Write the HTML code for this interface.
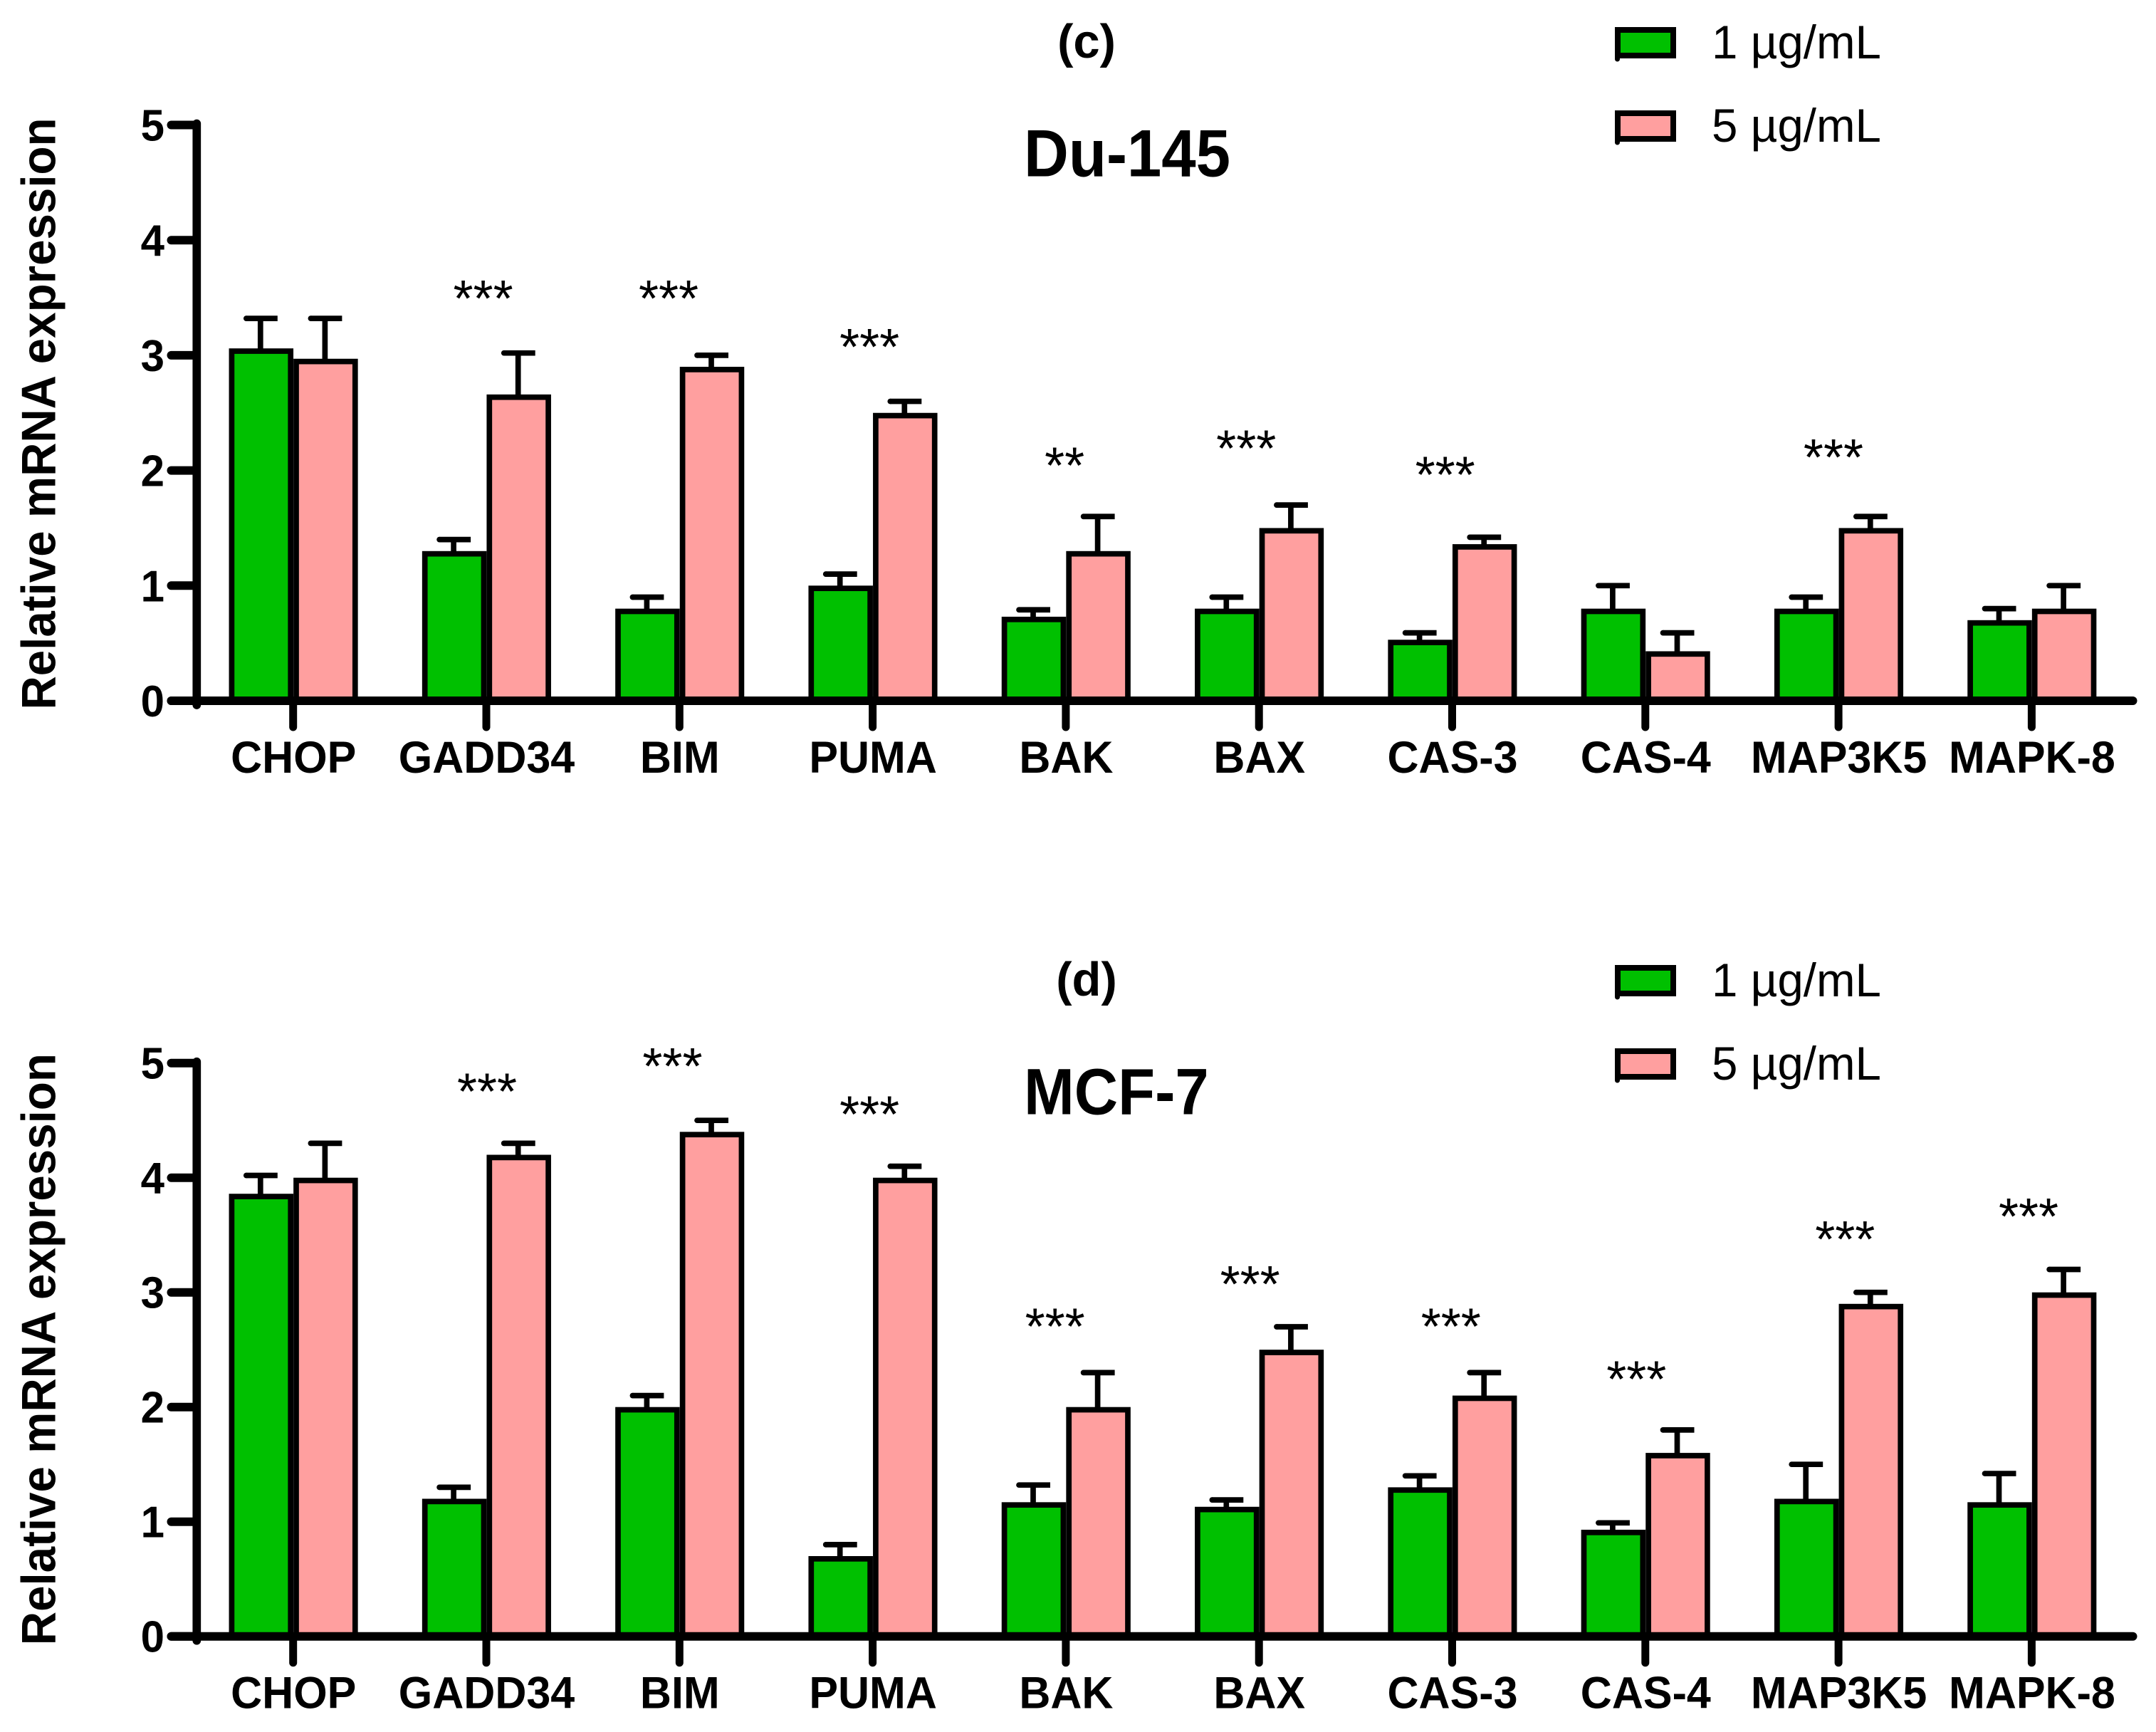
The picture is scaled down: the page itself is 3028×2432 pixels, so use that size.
<!DOCTYPE html>
<html lang="en">
<head>
<meta charset="utf-8">
<title>Relative mRNA expression: Du-145 and MCF-7</title>
<style>
html,body{margin:0;padding:0;background:#fff;}
svg{display:block;}
text{font-family:"Liberation Sans",Arial,sans-serif;fill:#000;}
.b{font-weight:bold;}
</style>
</head>
<body>
<svg id="figure" xmlns="http://www.w3.org/2000/svg" width="3028" height="2432" viewBox="0 0 3028 2432">
<rect width="3028" height="2432" fill="#fff"/>
<g id="panel-c"></g>
<g id="panel-d"></g>
</svg>
<script>
const categories = ["CHOP","GADD34","BIM","PUMA","BAK","BAX","CAS-3","CAS-4","MAP3K5","MAPK-8"];
const yTicks = [0,1,2,3,4,5];
const seriesNames = ["1 µg/mL","5 µg/mL"];

const du145Low      = [3.06,1.30,0.80,1.00,0.73,0.80,0.53,0.80,0.80,0.70];
const du145LowErr   = [0.26,0.10,0.10,0.10,0.06,0.10,0.06,0.20,0.10,0.10];
const du145High     = [2.97,2.66,2.90,2.50,1.30,1.50,1.36,0.43,1.50,0.80];
const du145HighErr  = [0.35,0.36,0.10,0.10,0.30,0.20,0.06,0.16,0.10,0.20];
const du145StarText = ["***","***","***","**","***","***","***"];
const du145StarCat  = [0.98,1.94,2.98,3.99,4.93,5.96,7.97];
const du145StarVal  = [3.50,3.50,3.08,2.05,2.20,1.97,2.12];

const mcf7Low       = [3.86,1.20,2.00,0.70,1.17,1.13,1.30,0.93,1.20,1.17];
const mcf7LowErr    = [0.16,0.10,0.10,0.10,0.15,0.06,0.10,0.06,0.30,0.25];
const mcf7High      = [4.00,4.20,4.40,4.00,2.00,2.50,2.10,1.60,2.90,3.00];
const mcf7HighErr   = [0.30,0.10,0.10,0.10,0.30,0.20,0.20,0.20,0.10,0.20];
const mcf7StarText  = ["***","***","***","***","***","***","***","***","***"];
const mcf7StarCat   = [1.00,1.96,2.98,3.94,4.95,5.99,6.95,8.03,8.98];
const mcf7StarVal   = [4.76,4.98,4.56,2.71,3.08,2.71,2.25,3.47,3.67];

const SVGNS = "http://www.w3.org/2000/svg";
const GREEN = "#00c000", PINK = "#ff9f9f";
const BAR_STROKE = 7.7;
const BOLD_STRETCH = 1.04;
const TITLE_STRETCH = 1.08;

function mk(parent, tag, attrs, txt){
  const el = document.createElementNS(SVGNS, tag);
  for (const k in attrs) el.setAttribute(k, attrs[k]);
  if (txt !== undefined) el.textContent = txt;
  parent.appendChild(el);
  return el;
}

function stretched(x, y, sy){ return "translate("+x+" "+y+") scale(1 "+sy+")"; }

function xScale(i){ return 411.7 + 271.3 * i; }

function drawPanel(root, cfg){
  const yScale = v => cfg.y0 - v * cfg.unit;
  const barTop = v => yScale(v) + BAR_STROKE / 2;
  const dy = cfg.y0 - 984;

  const tagText = mk(root, "text", {transform:stretched(1526, 81+cfg.textShift, 1), "text-anchor":"middle", "font-size":67, class:"b"}, cfg.tag);
  
  

  const titleText = mk(root, "text", {transform:stretched(1438, 247.5+cfg.textShift, TITLE_STRETCH), "font-size":cfg.titleSize, class:"b"}, cfg.title);
  
  

  const yTitle = mk(root, "text", {transform:"translate(77.5 "+(581+dy)+") rotate(-90) scale(1 "+BOLD_STRETCH+")", "text-anchor":"middle", "font-size":65.5, class:"b"}, "Relative mRNA expression");
  
  

  // bars and error bars
  categories.forEach((cat, i) => {
    [[cfg.low, cfg.lowErr, GREEN, -86.3, -3.5, "low"], [cfg.high, cfg.highErr, PINK, 4.3, 87.1, "high"]].forEach(s => {
      const v = s[0][i], e = s[1][i];
      const left = xScale(i) + s[3], right = xScale(i) + s[4];
      const cx = (left + right) / 2 - 1;
      const g = mk(root, "g", {});
      
      

      const stem = mk(g, "line", {x1:cx, x2:cx, y1:yScale(v+e), y2:barTop(v), stroke:"#000", "stroke-width":BAR_STROKE});
      
      

      const cap = mk(g, "line", {x1:cx-20, x2:cx+24, y1:yScale(v+e), y2:yScale(v+e), stroke:"#000", "stroke-width":BAR_STROKE});
      
      

      const capEnd = mk(g, "circle", {cx:cx-20, cy:yScale(v+e), r:BAR_STROKE/2, fill:"#000"});
      
      

      const bar = mk(g, "rect", {x:left, y:barTop(v), width:right-left, height:yScale(0)-barTop(v), fill:s[2], stroke:"#000", "stroke-width":BAR_STROKE});
      
      
    });
  });

  // y axis
  const yAxis = mk(root, "line", {x1:276.3, x2:276.3, y1:yScale(5)-2, y2:yScale(0)+6, stroke:"#000", "stroke-width":11.7, "stroke-linecap":"round"});
  
  

  yTicks.forEach(t => {
    const tick = mk(root, "line", {x1:240.5, x2:276, y1:yScale(t), y2:yScale(t), stroke:"#000", "stroke-width":12, "stroke-linecap":"round"});
    
    

    const lab = mk(root, "text", {transform:stretched(231, yScale(t)+22, BOLD_STRETCH), "text-anchor":"end", "font-size":60, class:"b"}, String(t));
    
    
  });

  // x axis
  const xAxis = mk(root, "line", {x1:240.5, x2:2995.5, y1:yScale(0), y2:yScale(0), stroke:"#000", "stroke-width":12, "stroke-linecap":"round"});
  
  

  categories.forEach((cat, i) => {
    const tick = mk(root, "line", {x1:xScale(i), x2:xScale(i), y1:yScale(0), y2:yScale(0)+37, stroke:"#000", "stroke-width":11, "stroke-linecap":"round"});
    
    

    const lab = mk(root, "text", {transform:stretched(xScale(i)+0.5, yScale(0)+101, BOLD_STRETCH), "text-anchor":"middle", "font-size":61, class:"b"}, cat);
    
    
  });

  // significance stars
  cfg.starCat.forEach((c, i) => {
    const star = mk(root, "text", {x:xScale(c)+1, y:yScale(cfg.starVal[i])+26, "text-anchor":"middle", "font-size":72}, cfg.starText[i]);
    
    
  });

  // legend
  seriesNames.forEach((name, i) => {
    const top = 38 + 117 * i + cfg.textShift;
    const swatch = mk(root, "rect", {x:2272, y:top+4, width:78, height:36, fill:i === 0 ? GREEN : PINK, stroke:"#000", "stroke-width":8});
    
    

    const nub = mk(root, "line", {x1:2271.5, x2:2271.5, y1:top+40, y2:top+45, stroke:"#000", "stroke-width":7, "stroke-linecap":"round"});
    
    

    const label = mk(root, "text", {x:2404, y:top+44, "font-size":65.5}, name);
    
    
  });
}

drawPanel(document.getElementById("panel-c"), {
  tag:"(c)", title:"Du-145", titleSize:87, y0:984, unit:161.7, textShift:0,
  low:du145Low, lowErr:du145LowErr, high:du145High, highErr:du145HighErr,
  starText:du145StarText, starCat:du145StarCat, starVal:du145StarVal
});
drawPanel(document.getElementById("panel-d"), {
  tag:"(d)", title:"MCF-7", titleSize:85, y0:2297.7, unit:161, textShift:1317,
  low:mcf7Low, lowErr:mcf7LowErr, high:mcf7High, highErr:mcf7HighErr,
  starText:mcf7StarText, starCat:mcf7StarCat, starVal:mcf7StarVal
});
</script>
</body>
</html>
